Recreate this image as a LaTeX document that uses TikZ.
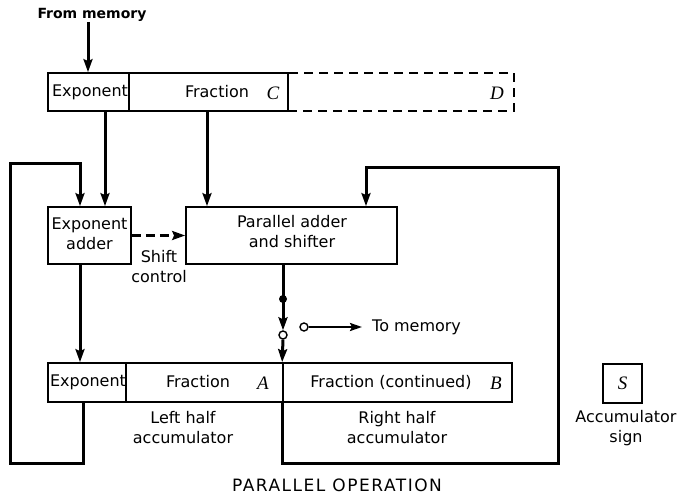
\documentclass[tikz,border=0pt]{standalone}
\usepackage{fontspec}
\setmainfont{DejaVu Sans}
\newfontfamily\letterfont{Liberation Serif}
\usetikzlibrary{arrows.meta}
\begin{document}
\begin{tikzpicture}[x=1pt,y=-1pt,
  box/.style={draw, line width=1.7pt, rectangle, inner sep=0pt},
  lbl/.style={font=\fontsize{16}{20}\selectfont, inner sep=0pt, align=center},
  mlbl/.style={font=\letterfont\itshape\fontsize{19}{20}\selectfont, inner sep=0pt},
  wire/.style={line width=3pt},
  arr/.style={wire, -{Stealth[length=13pt,width=9pt,inset=2pt]}},
  divider/.style={line width=1.1pt},
]
\useasboundingbox (0,0) rectangle (678,495);
\fill[white] (0,0) rectangle (678,495);

% x reference coordinates
\coordinate (cE) at (105,0);
\coordinate (cF) at (207,0);
\coordinate (cL) at (80,0);
\coordinate (cR) at (366,0);
\coordinate (cO) at (283,0);
\coordinate (cLB) at (83,0);
\coordinate (cM) at (88,0);
\coordinate (lb) at (10,463);
\coordinate (lt) at (10,163);
\coordinate (rb) at (558,463);
\coordinate (rt) at (558,167);

% boxes
\node[box, minimum width=240pt, minimum height=38pt] (regC) at (168,92) {};
\node[box, dashed, dash pattern=on 9pt off 6pt, minimum width=226pt, minimum height=38pt] (regD) at (401,92) {};
\node[box, minimum width=83pt, minimum height=57pt] (expadd) at (89.5,235.5) {};
\node[box, minimum width=211pt, minimum height=57pt] (paradd) at (291.5,235.5) {};
\node[box, minimum width=235pt, minimum height=39pt] (accA) at (165.5,382.5) {};
\node[box, minimum width=229pt, minimum height=39pt] (accB) at (397.5,382.5) {};
\node[box, minimum width=39pt, minimum height=39pt] (sbox) at (622.5,383.5) {};

% dividers
\coordinate (dC) at (129,0);
\coordinate (dA) at (126,0);
\draw[divider] (regC.north -| dC) -- (regC.south -| dC);
\draw[divider] (accA.north -| dA) -- (accA.south -| dA);

% texts
\node[lbl, font=\bfseries\fontsize{14}{17}\selectfont] (frommem) at (92,15) {From memory};
\node[lbl] (cexp) at (90,92) {Exponent};
\node[lbl] (cfrac) at (217,92) {Fraction};
\node[mlbl] (cC) at (273,93) {C};
\node[mlbl] (cD) at (497,93) {D};
\node[lbl] (eatext) at (89.5,234) {Exponent\\adder};
\node[lbl] (patext) at (292,232) {Parallel adder\\and shifter};
\node[lbl] (shift) at (159,267) {Shift\\control};
\node[lbl, anchor=west] (tomem) at (372,327) {To memory};
\node[lbl] (aexp) at (88,382) {Exponent};
\node[lbl] (afrac) at (198,382) {Fraction};
\node[mlbl] (aA) at (263,383) {A};
\node[lbl] (bfrac) at (391,382) {Fraction (continued)};
\node[mlbl] (bB) at (496,383) {B};
\node[mlbl] (sS) at (sbox) {S};
\node[lbl] (lhalf) at (183,428) {Left half\\accumulator};
\node[lbl] (rhalf) at (397,428) {Right half\\accumulator};
\node[lbl] (asign) at (626,428) {Accumulator\\sign};
\node[lbl, font=\fontsize{17}{20}\selectfont\addfontfeatures{LetterSpace=9}] (title) at (337,485) {PARALLEL OPERATION};

% connectors
\draw[arr] (frommem.south -| cM) -- (regC.north -| cM);
\draw[arr] (regC.south -| cE) -- (expadd.north -| cE);
\draw[arr] (regC.south -| cF) -- (paradd.north -| cF);
\draw[arr, dashed, dash pattern=on 9pt off 5pt] (expadd.east) -- (paradd.west);
\draw[arr] (expadd.south -| cL) -- (accA.north -| cL);

% left feedback loop
\draw[arr, line join=miter] (accA.south -| cLB) |- (lb) -- (lt) -| (expadd.north -| cL);
% right feedback loop
\draw[arr, line join=miter] (accB.south west) |- (rb) -- (rt) -| (paradd.north -| cR);

% output path
\coordinate (dot1) at (283,299);
\node[circle, draw, line width=1.4pt, fill=white, inner sep=0pt, minimum size=8pt] (circ1) at (283,335) {};
\draw[wire] (paradd.south -| cO) -- (dot1);
\fill (dot1) circle (4pt);
\draw[arr] (dot1) -- (circ1.north);
\draw[arr] (circ1.south) -- (accB.north west);
\node[circle, draw, line width=1.4pt, fill=white, inner sep=0pt, minimum size=8pt] (circ2) at (304,327) {};
\draw[line width=2.2pt, -{Stealth[length=12pt,width=8pt,inset=2pt]}, shorten >=10pt] (circ2.east) -- (tomem.west);
\end{tikzpicture}
\end{document}
